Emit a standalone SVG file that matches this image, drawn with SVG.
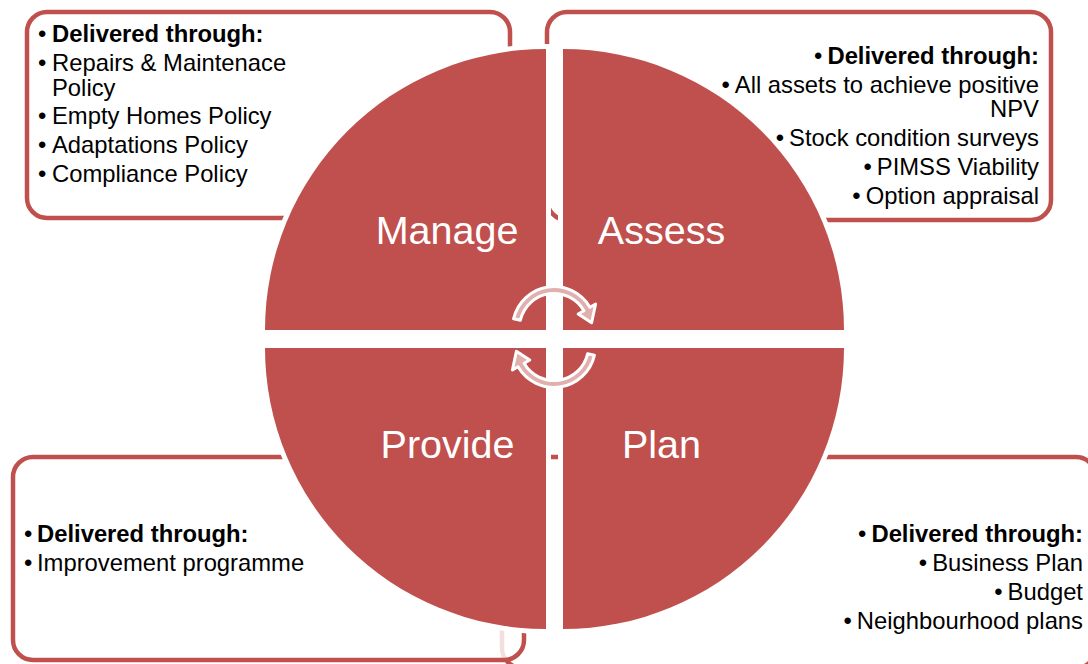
<svg xmlns="http://www.w3.org/2000/svg" width="1088" height="664" viewBox="0 0 1088 664">
<style>
.box{fill:#fff;stroke:#C0504D;stroke-width:4.5}
.pie{fill:#C0504D;stroke:#fff;stroke-width:10;paint-order:stroke;stroke-linejoin:miter}
.lbl{font-family:"Liberation Sans",Arial,sans-serif;font-size:39.5px;fill:#fff;text-anchor:middle}
.t{font-family:"Liberation Sans",Arial,sans-serif;font-size:23.8px;fill:#000}
.r{text-anchor:end}
.bd{font-weight:bold}
.arr{fill:#E0B0AF;stroke:#fff;stroke-width:3;stroke-linejoin:round}
</style>
<rect width="1088" height="664" fill="#fff"/>
<g id="box-plan">
<rect class="box" x="502" y="457" width="594" height="211" rx="20"/>
<text class="t r" x="1083" y="542"><tspan>•</tspan><tspan dx="5" class="bd">Delivered through:</tspan></text>
<text class="t r" x="1083" y="571"><tspan>•</tspan><tspan dx="5">Business Plan</tspan></text>
<text class="t r" x="1083" y="600"><tspan>•</tspan><tspan dx="5">Budget</tspan></text>
<text class="t r" x="1083" y="629"><tspan>•</tspan><tspan dx="5">Neighbourhood plans</tspan></text>
</g>
<g id="box-provide">
<rect class="box" x="13" y="457" width="511" height="203" rx="20" style="fill-opacity:0.82"/>
<text class="t" x="24" y="542">•</text><text class="t bd" x="37" y="542">Delivered through:</text>
<text class="t" x="24" y="571">•</text><text class="t" x="37" y="571">Improvement programme</text>
</g>
<g id="box-manage">
<rect class="box" x="27" y="12" width="483" height="206" rx="20"/>
<text class="t" x="38" y="42">•</text><text class="t bd" x="52" y="42">Delivered through:</text>
<text class="t" x="38" y="70.5">•</text><text class="t"><tspan x="52" y="70.5">Repairs &amp; Maintenace</tspan><tspan x="52" y="95.5">Policy</tspan></text>
<text class="t" x="38" y="124">•</text><text class="t" x="52" y="124">Empty Homes Policy</text>
<text class="t" x="38" y="153">•</text><text class="t" x="52" y="153">Adaptations Policy</text>
<text class="t" x="38" y="182">•</text><text class="t" x="52" y="182">Compliance Policy</text>
</g>
<g id="box-assess">
<rect class="box" x="547" y="12" width="504" height="208" rx="20"/>
<text class="t r" x="1039" y="64"><tspan>•</tspan><tspan dx="5" class="bd">Delivered through:</tspan></text>
<text class="t r"><tspan x="1039" y="93">•</tspan><tspan dx="5">All assets to achieve positive</tspan><tspan x="1039" y="117">NPV</tspan></text>
<text class="t r" x="1039" y="146"><tspan>•</tspan><tspan dx="5">Stock condition surveys</tspan></text>
<text class="t r" x="1039" y="175"><tspan>•</tspan><tspan dx="5">PIMSS Viability</tspan></text>
<text class="t r" x="1039" y="204"><tspan>•</tspan><tspan dx="5">Option appraisal</tspan></text>
</g>
<g id="manage">
<path class="pie" d="M546,330 L265,330 A281,281 0 0 1 546,49 Z"/>
<text class="lbl" x="447" y="244">Manage</text>
</g>
<g id="assess">
<path class="pie" d="M563,330 L563,49 A281,281 0 0 1 844,330 Z"/>
<text class="lbl" x="661.5" y="244">Assess</text>
</g>
<g id="plan">
<path class="pie" d="M563,348 L844,348 A281,281 0 0 1 563,629 Z"/>
<text class="lbl" x="661.5" y="458">Plan</text>
</g>
<g id="provide">
<path class="pie" d="M546,348 L546,629 A281,281 0 0 1 265,348 Z"/>
<text class="lbl" x="447.5" y="458">Provide</text>
</g>
<g id="connectors">
<path id="arrow-top" class="arr" d="M513.6,318.7 A41.5,41.5 0 0 1 589.9,307.25 L595.6,304 L591.6,322.7 L578.2,314 L583.9,310.75 A34.5,34.5 0 0 0 520.4,320.2 Z"/>
<path id="arrow-bottom" class="arr" transform="rotate(180 554 337)" d="M513.6,318.7 A41.5,41.5 0 0 1 589.9,307.25 L595.6,304 L591.6,322.7 L578.2,314 L583.9,310.75 A34.5,34.5 0 0 0 520.4,320.2 Z"/>
</g>
</svg>
